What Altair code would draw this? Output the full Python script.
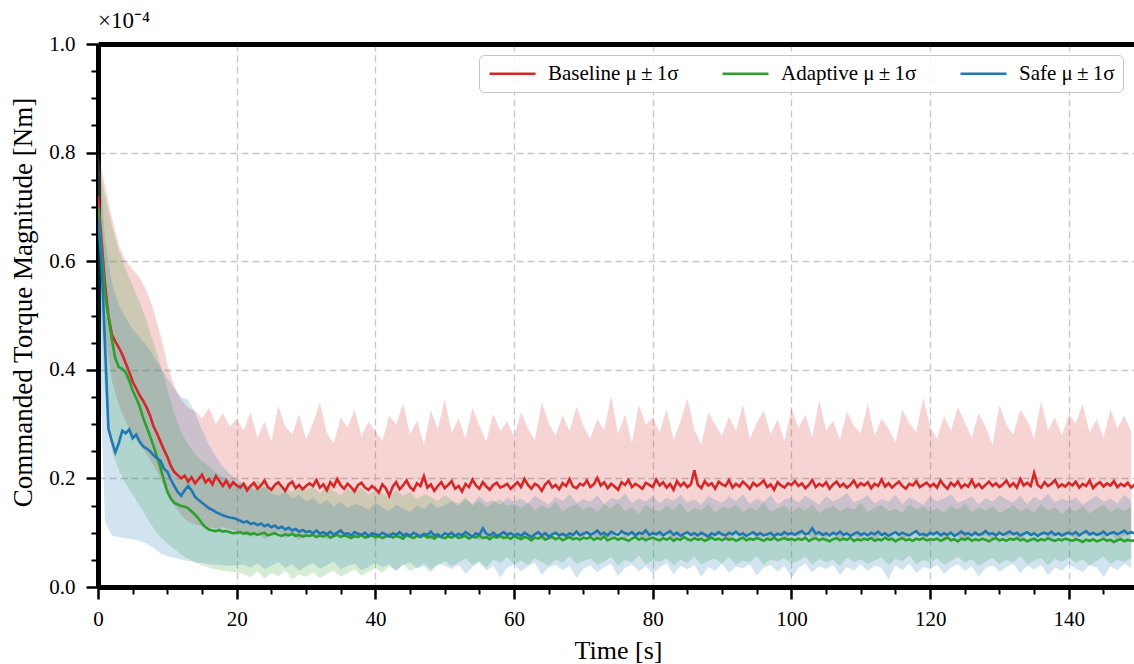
import altair as alt
import pandas as pd

FONT = "Liberation Serif"
SERIES = ["Baseline μ\u2009±\u20091σ", "Adaptive μ\u2009±\u20091σ", "Safe μ\u2009±\u20091σ"]
COLORS = ["#d62728", "#2ca02c", "#1f77b4"]
MEAN_STEP = 0.5   # seconds between mean samples
BAND_STEP = 1.0   # seconds between band samples
UNIT = 1000.0     # values below are in thousandths of 1e-4 Nm

X_TICKS = list(range(0, 150, 5))
Y_TICKS = [round(i * 0.05, 2) for i in range(21)]

red_mean = [720, 640, 560, 500, 465, 452, 441, 428, 412, 396, 378, 366, 353, 343, 331, 316, 296, 283, 268, 253, 240, 223, 212, 206, 200,
            205, 194, 202, 191, 199, 207, 193, 199, 189, 204, 195, 186, 196, 184, 193, 187,
            183, 190, 178, 186, 192, 181, 187, 196, 184, 179, 188, 193, 185, 177, 189, 194, 182, 188, 180, 186,
            191, 186, 197, 183, 189, 178, 193, 185, 199, 187, 181, 190, 184, 176, 188, 192, 183, 179, 186, 181,
            174, 189, 182, 168, 185, 193, 180, 187, 196, 184, 178, 191, 186, 204, 183, 189, 177, 186, 193, 182,
            188, 195, 181, 186, 176, 190, 184, 198, 187, 181, 193, 185, 179, 188, 192, 183, 186, 190, 181, 187,
            193, 184, 199, 188, 181, 190, 186, 177, 189, 195, 183, 188, 180, 191, 186, 199, 185, 182, 190, 187,
            196, 184, 189, 201, 187, 193, 182, 190, 185, 179, 193, 188, 197, 184, 190, 186, 181, 192, 188, 184,
            198, 187, 193, 183, 190, 179, 195, 186, 192, 184, 189, 215, 188, 182, 195, 187, 191, 181, 194, 189,
            186, 197, 183, 190, 185, 194, 188, 181, 192, 186, 190, 196, 184, 189, 179, 193, 187, 183, 191, 188,
            195, 186, 191, 182, 188, 197, 184, 190, 186, 193, 181, 189, 194, 185, 190, 183, 188, 196, 184, 191,
            187, 193, 182, 190, 186, 198, 185, 191, 183, 189, 194, 186, 181, 190, 187, 195, 184, 188, 192, 185,
            190, 183, 196, 187, 181, 192, 186, 194, 183, 189, 185, 197, 184, 190, 182, 188, 194, 186, 191, 184,
            189, 196, 185, 191, 183, 199, 187, 192, 186, 210, 188, 183, 193, 186, 190, 197, 184, 189, 185, 192,
            187, 194, 183, 190, 186, 196, 182, 189, 193, 185, 191, 187, 195, 184, 190, 186, 192, 183, 189]

green_mean = [700, 620, 540, 498, 455, 421, 405, 402, 395, 380, 362, 348, 333, 312, 295, 278, 260, 240, 220, 197, 176, 163, 155, 152, 149,
              148, 145, 139, 133, 126, 117, 110, 106, 104, 103, 105, 102, 103, 101, 99, 100,
              101, 98, 100, 97, 99, 96, 98, 100, 95, 97, 99, 96, 94, 97, 95, 98, 94, 96, 93, 95,
              94, 96, 92, 95, 93, 97, 91, 94, 96, 92, 95, 93, 90, 94, 92, 96, 91, 93, 95, 92,
              94, 90, 93, 96, 91, 94, 92, 89, 95, 93, 90, 94, 92, 96, 91, 93, 89, 94, 92, 90,
              93, 91, 95, 90, 92, 94, 89, 93, 91, 95, 90, 92, 88, 93, 91, 94, 90, 92, 89, 93,
              91, 88, 92, 90, 86, 91, 89, 93, 87, 90, 92, 88, 91, 86, 89, 92, 88, 90, 87, 91,
              89, 92, 87, 90, 88, 93, 86, 89, 91, 87, 90, 88, 85, 89, 92, 87, 90, 86, 89, 91,
              88, 86, 90, 87, 91, 85, 89, 87, 92, 88, 86, 90, 87, 89, 85, 88, 91, 87, 89, 86,
              90, 87, 89, 85, 88, 91, 86, 89, 87, 90, 88, 85, 89, 87, 91, 86, 88, 90, 87, 89,
              86, 89, 87, 91, 85, 88, 90, 86, 89, 87, 84, 88, 90, 86, 89, 87, 91, 85, 88, 86,
              89, 87, 90, 85, 88, 86, 91, 87, 89, 84, 88, 90, 86, 88, 85, 89, 87, 90, 86, 88,
              87, 89, 85, 88, 91, 86, 88, 84, 89, 87, 90, 85, 88, 86, 89, 87, 84, 88, 90, 86,
              88, 85, 89, 87, 90, 86, 88, 84, 87, 89, 85, 88, 86, 90, 87, 85, 88, 86, 89, 87,
              85, 88, 86, 83, 87, 85, 88, 84, 86, 89, 85, 87, 83, 86, 88, 84, 87, 85, 86]

blue_mean = [680, 600, 450, 292, 268, 248, 265, 288, 283, 290, 274, 281, 268, 259, 255, 250, 243, 237, 233, 218, 212, 198, 186, 175, 168,
             178, 186, 178, 166, 160, 155, 150, 145, 142, 138, 135, 132, 130, 128, 127, 125,
             122, 119, 121, 116, 118, 114, 117, 112, 115, 110, 113, 108, 111, 106, 109, 104, 107, 102, 105, 101,
             103, 99, 104, 98, 101, 97, 102, 96, 100, 104, 97, 99, 95, 101, 98, 96, 100, 94, 99, 97,
             95, 100, 97, 93, 99, 96, 101, 95, 98, 94, 100, 97, 93, 98, 96, 102, 95, 97, 93, 99,
             96, 100, 94, 98, 95, 101, 97, 93, 99, 96, 108, 98, 95, 100, 94, 97, 101, 96, 99, 95,
             98, 94, 100, 96, 92, 97, 101, 95, 99, 93, 97, 100, 95, 98, 94, 99, 96, 102, 95, 98,
             101, 96, 99, 104, 97, 100, 95, 102, 98, 96, 103, 99, 97, 101, 95, 100, 98, 104, 96, 99,
             97, 101, 95, 99, 103, 96, 100, 94, 98, 101, 96, 99, 95, 100, 97, 93, 99, 96, 101, 97,
             95, 100, 97, 102, 96, 99, 94, 98, 101, 96, 99, 95, 97, 100, 94, 98, 96, 101, 97, 99,
             96, 100, 103, 97, 99, 108, 98, 101, 96, 99, 95, 100, 97, 102, 96, 99, 94, 98, 101, 96,
             99, 95, 100, 97, 102, 96, 99, 94, 98, 101, 96, 100, 97, 95, 99, 103, 96, 98, 95, 100,
             97, 101, 95, 99, 96, 100, 94, 98, 102, 97, 99, 95, 100, 96, 98, 103, 97, 99, 95, 100,
             96, 99, 102, 97, 100, 95, 98, 101, 96, 99, 94, 98, 100, 97, 102, 96, 99, 95, 98, 100,
             97, 101, 95, 99, 103, 97, 100, 96, 98, 102, 96, 99, 101, 97, 100, 104, 98, 101, 99]

red_hi = [800, 740, 680, 630, 600, 585, 570, 545, 510, 465, 410, 370, 345, 330, 325, 310, 330, 300, 320, 295, 310,
          288, 322, 275, 305, 268, 334, 296, 281, 318, 272,
          301, 340, 283, 265, 312, 294, 327, 278, 305, 287,
          269, 316, 299, 338, 281, 307, 262, 325, 291, 346,
          284, 311, 273, 330, 297, 268, 319, 288, 305, 276,
          323, 292, 270, 341, 301, 279, 316, 287, 332, 296,
          274, 309, 289, 352, 282, 318, 265, 336, 298, 312,
          285, 328, 271, 305, 347, 290, 263, 321, 299, 279,
          314, 287, 336, 273, 302, 325, 281, 309, 268, 330,
          293, 317, 276, 344, 289, 306, 271, 323, 297, 283,
          338, 279, 310, 292, 266, 327, 301, 285, 349, 294,
          272, 315, 288, 331, 303, 276, 320, 295, 262, 335,
          298, 281, 326, 307, 274, 342, 289, 312, 279, 318,
          301, 337, 284, 309, 275, 328, 292, 316, 287]

red_lo = [650, 470, 380, 335, 305, 280, 262, 245, 225, 200, 170, 150, 132, 120, 115, 112, 110, 108, 110, 106, 104,
          98, 92, 101, 88, 95, 103, 90, 97, 86, 99,
          93, 100, 87, 96, 91, 104, 89, 95, 98, 85,
          94, 90, 101, 87, 97, 92, 99, 86, 95, 102,
          89, 96, 93, 100, 85, 98, 91, 97, 88, 103,
          95, 90, 99, 86, 94, 101, 92, 88, 97, 93,
          100, 87, 95, 91, 104, 89, 96, 93, 86, 98,
          92, 99, 88, 95, 101, 90, 94, 87, 97, 93,
          89, 98, 94, 102, 87, 95, 91, 99, 86, 96,
          93, 100, 88, 95, 91, 97, 85, 99, 94, 90,
          101, 88, 96, 92, 98, 87, 95, 103, 90, 94,
          97, 89, 100, 93, 86, 98, 92, 95, 88, 101,
          91, 96, 87, 99, 94, 102, 89, 95, 92, 97,
          88, 100, 93, 96, 90, 98, 86, 94, 99]

green_hi = [790, 720, 665, 620, 585, 555, 525, 490, 450, 410, 365, 320, 285, 262, 245, 232, 222, 212, 203, 196, 190,
            192, 181, 197, 185, 178, 190, 183, 175, 188, 179,
            184, 172, 186, 177, 169, 181, 174, 183, 170, 178,
            173, 165, 179, 168, 175, 162, 171, 166, 158, 169,
            160, 154, 166, 150, 158, 147, 155, 162, 149, 153,
            146, 155, 141, 150, 144, 157, 139, 148, 153, 142,
            149, 138, 152, 144, 156, 140, 147, 135, 151, 143,
            139, 150, 142, 155, 137, 146, 141, 153, 136, 148,
            144, 152, 138, 147, 141, 156, 139, 145, 150, 137,
            148, 141, 153, 136, 145, 150, 139, 147, 142, 155,
            138, 146, 151, 140, 144, 136, 152, 143, 148, 139,
            145, 137, 150, 142, 154, 138, 147, 141, 149, 136,
            143, 151, 139, 146, 137, 153, 141, 148, 135, 145,
            140, 149, 136, 144, 152, 138, 146, 141, 147]

green_lo = [610, 360, 250, 215, 190, 170, 150, 128, 108, 92, 80, 70, 60, 52, 46, 40, 36, 32, 30, 28, 27,
            24, 18, 29, 15, 26, 20, 31, 14, 23, 19,
            27, 16, 24, 30, 19, 25, 33, 21, 28, 35,
            26, 38, 31, 42, 29, 36, 44, 33, 40, 47,
            38, 45, 52, 41, 48, 36, 50, 44, 55, 42,
            49, 40, 53, 46, 38, 51, 44, 57, 43, 48,
            52, 41, 47, 55, 39, 50, 45, 58, 42, 49,
            46, 53, 40, 50, 44, 56, 41, 48, 52, 43,
            55, 42, 49, 45, 57, 40, 51, 47, 53, 44,
            48, 56, 41, 52, 45, 50, 38, 54, 46, 51,
            43, 49, 55, 40, 52, 47, 58, 42, 50, 45,
            53, 41, 48, 56, 44, 51, 39, 47, 54, 42,
            50, 45, 57, 41, 49, 53, 40, 52, 46, 55,
            44, 51, 39, 48, 56, 42, 50, 46, 53]

blue_hi = [830, 640, 560, 520, 495, 475, 460, 445, 425, 405, 385, 365, 350, 345, 320, 290, 262, 240, 222, 208, 198,
           192, 183, 178, 185, 172, 168, 176, 163, 170, 158,
           165, 152, 160, 148, 157, 145, 153, 149, 142, 155,
           147, 140, 152, 144, 138, 150, 143, 155, 146, 151,
           158, 149, 162, 153, 167, 156, 160, 151, 165, 157,
           163, 154, 168, 159, 152, 166, 158, 171, 155, 162,
           157, 169, 153, 164, 160, 172, 155, 163, 158, 167,
           154, 165, 159, 170, 156, 162, 151, 168, 160, 155,
           166, 158, 171, 153, 163, 157, 169, 152, 161, 165,
           155, 168, 160, 152, 167, 158, 164, 173, 156, 161,
           169, 154, 162, 157, 170, 153, 165, 159, 151, 166,
           158, 163, 171, 155, 160, 167, 152, 164, 157, 169,
           161, 156, 168, 153, 166, 159, 172, 155, 163, 158,
           165, 152, 160, 168, 157, 163, 154, 170, 159]

blue_lo = [520, 120, 95, 92, 90, 88, 85, 80, 72, 62, 57, 54, 50, 48, 45, 44, 42, 41, 40, 39, 40,
           41, 36, 44, 33, 39, 46, 35, 42, 30, 38,
           44, 34, 40, 47, 32, 39, 43, 31, 37, 45,
           36, 42, 29, 40, 46, 34, 38, 27, 43, 39,
           33, 41, 24, 37, 45, 30, 39, 18, 35, 42,
           28, 38, 44, 22, 36, 41, 31, 39, 16, 34,
           40, 27, 37, 43, 20, 35, 42, 29, 38, 25,
           36, 44, 23, 39, 32, 41, 19, 37, 30, 43,
           26, 38, 34, 42, 21, 36, 40, 28, 39, 17,
           35, 43, 27, 38, 33, 41, 22, 37, 30, 42,
           29, 39, 35, 14, 40, 31, 43, 26, 37, 33,
           41, 24, 36, 42, 30, 38, 19, 35, 40, 28,
           37, 43, 25, 39, 32, 41, 21, 36, 30, 42,
           34, 27, 40, 36, 18, 38, 31, 43, 35]


def mean_frame(vals, name):
    return pd.DataFrame({"t": [i * MEAN_STEP for i in range(len(vals))],
                         "v": [v / UNIT for v in vals], "series": name})


def band_frame(lo, hi, name):
    n = min(len(lo), len(hi))
    return pd.DataFrame({"t": [i * BAND_STEP for i in range(n)],
                         "lo": [v / UNIT for v in lo[:n]],
                         "hi": [v / UNIT for v in hi[:n]], "series": name})


xscale = alt.Scale(domain=[0, 149.4], nice=False, zero=False)
yscale = alt.Scale(domain=[0, 1.0], nice=False, zero=False)

x_major = "datum.value % 20 === 0"
y_major = "abs(datum.value * 5 - round(datum.value * 5)) < 0.001"

x_axis = alt.Axis(
    values=X_TICKS, labelExpr=f"{x_major} ? datum.label : ''", labelOverlap=False, labelFlush=False,
    tickSize={"condition": {"test": x_major, "value": 12}, "value": 7},
    tickWidth={"condition": {"test": x_major, "value": 2.5}, "value": 2},
    gridOpacity={"condition": {"test": x_major, "value": 1}, "value": 0},
    grid=True, gridDash=[7, 4], gridColor="#c8c8c8", gridWidth=1.3,
    domainWidth=5, domainColor="black", tickColor="black",
    labelFont=FONT, labelFontSize=21, labelColor="black", labelPadding=9,
    title="Time [s]", titleFont=FONT, titleFontSize=26, titleFontWeight="normal", titleColor="black",
    titleX=520, titleY=71, titleBaseline="alphabetic", titleAlign="center",
)
top_axis = alt.Axis(orient="top", ticks=False, labels=False, grid=False, domainWidth=5,
                    domainColor="black", title=None)
y_axis = alt.Axis(
    values=Y_TICKS, labelExpr=f"{y_major} ? format(datum.value, '.1f') : ''", labelOverlap=False, labelFlush=False,
    tickSize={"condition": {"test": y_major, "value": 12}, "value": 7},
    tickWidth={"condition": {"test": y_major, "value": 2.5}, "value": 2},
    gridOpacity={"condition": {"test": y_major, "value": 1}, "value": 0},
    grid=True, gridDash=[7, 4], gridColor="#c8c8c8", gridWidth=1.3,
    domainWidth=5, domainColor="black", tickColor="black",
    labelFont=FONT, labelFontSize=21, labelColor="black", labelPadding=11,
    title="Commanded Torque Magnitude [Nm]", titleFont=FONT, titleFontSize=27, titleFontWeight="normal",
    titleColor="black", titleX=-67, titleY=258, titleAngle=-90, titleBaseline="alphabetic", titleAlign="center",
)

legend = alt.Legend(
    orient="none", legendX=381, legendY=11, direction="horizontal", title=None,
    symbolType="M-1,0H4.75", symbolSize=256, symbolStrokeWidth=2.5,
    labelFont=FONT, labelFontSize=21, labelColor="black", labelOffset=40, labelLimit=0,
    columnPadding=38, padding=8, strokeColor="#c4c4c4", cornerRadius=5,
    fillColor="rgba(255,255,255,0.8)",
)
color = alt.Color("series:N", scale=alt.Scale(domain=SERIES, range=COLORS), legend=legend)

bands = [band_frame(red_lo, red_hi, SERIES[0]), band_frame(green_lo, green_hi, SERIES[1]),
         band_frame(blue_lo, blue_hi, SERIES[2])]
means = [mean_frame(red_mean, SERIES[0]), mean_frame(green_mean, SERIES[1]),
         mean_frame(blue_mean, SERIES[2])]

layers = []
for i, (df, col) in enumerate(zip(bands, COLORS)):
    layers.append(
        alt.Chart(df).mark_area(color=col, opacity=0.2, clip=True).encode(
            x=alt.X("t:Q", scale=xscale, axis=top_axis if i == 0 else None),
            y=alt.Y("lo:Q", scale=yscale, axis=y_axis),
            y2="hi:Q",
        )
    )
for i, df in enumerate(means):
    layers.append(
        alt.Chart(df).mark_line(strokeWidth=2.6, clip=True).encode(
            x=alt.X("t:Q", scale=xscale, axis=x_axis if i == 0 else None),
            y=alt.Y("v:Q", scale=yscale, axis=y_axis),
            color=color,
        )
    )

chart = alt.layer(*layers).resolve_axis(x="independent").properties(
    width=1036, height=543,
    autosize=alt.AutoSizeParams(type="none"),
    padding={"left": 98, "top": 44, "right": 0, "bottom": 77},
    title=alt.TitleParams("×10⁻⁴", anchor="start", frame="group", font=FONT, fontSize=23,
                          fontWeight="normal", color="black", offset=0),
).configure_view(stroke=None)

chart.save("out.html", embed_options={"renderer": "svg", "actions": False})
